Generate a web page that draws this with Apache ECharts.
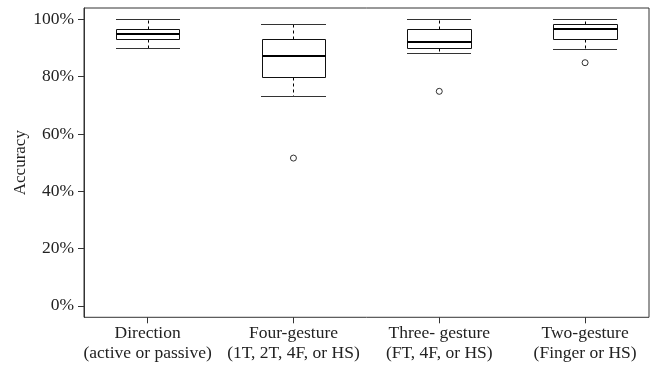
<!DOCTYPE html>
<html>
<head>
<meta charset="utf-8">
<script src="https://cdn.jsdelivr.net/npm/echarts@6/dist/echarts.min.js"></script>
<style>
html,body{margin:0;padding:0;background:#fff;}
#chart{width:658px;height:366px;}
</style>
</head>
<body>
<div id="chart"></div>
<script>
// ---- data (percent) ----
var categories = [
  'Direction\n(active or passive)',
  'Four-gesture\n(1T, 2T, 4F, or HS)',
  'Three- gesture\n(FT, 4F, or HS)',
  'Two-gesture\n(Finger or HS)'
];
var whiskerLow  = [90.0, 73.2, 88.2, 89.8];
var q1          = [93.1, 79.9, 90.0, 93.1];
var medians     = [94.9, 87.4, 92.3, 96.5];
var q3          = [96.6, 93.1, 96.5, 98.3];
var whiskerHigh = [100.0, 98.3, 100.0, 100.0];
var outlierCat  = [1, 2, 3];
var outlierVal  = [51.6, 74.9, 84.9];
var yTicks = [0, 20, 40, 60, 80, 100];

var boxData = categories.map(function (c, i) {
  return [i, whiskerLow[i], q1[i], medians[i], q3[i], whiskerHigh[i]];
});
var outlierData = outlierCat.map(function (c, i) { return [c, outlierVal[i]]; });

var FONT = 'Liberation Serif';
var TXT = '#222';

function r(v) { return Math.round(v) + 0.5; }

var chart = echarts.init(document.getElementById('chart'), null, {renderer: 'canvas'});
chart.setOption({
  animation: false,
  backgroundColor: '#fff',
  grid: [
    {left: 74.7, right: -13.6, top: 8, bottom: 48.7},
    {left: 84, right: 9, top: 8, bottom: 48.7, show: true, borderColor: '#333', borderWidth: 1, backgroundColor: 'transparent'}
  ],
  xAxis: [
    {
      gridIndex: 0, type: 'category', data: categories, boundaryGap: true, position: 'bottom',
      axisLine: {show: false, onZero: false},
      axisTick: {show: true, alignWithLabel: true, length: 6, lineStyle: {color: '#333', width: 1}},
      axisLabel: {margin: 6, fontFamily: FONT, fontSize: 17.5, lineHeight: 20, color: TXT, interval: 0},
      splitLine: {show: false}
    },
    {gridIndex: 1, type: 'value', min: 0, max: 1, show: false}
  ],
  yAxis: [
    {gridIndex: 0, type: 'value', min: -4, max: 104, show: false},
    {
      gridIndex: 1, type: 'value', min: -4, max: 104,
      axisLine: {show: true, lineStyle: {color: '#333'}},
      axisTick: {show: true, length: 6, customValues: yTicks, lineStyle: {color: '#333'}},
      axisLabel: {customValues: yTicks, formatter: '{value}%', margin: 10, fontFamily: FONT, fontSize: 17.5, color: TXT},
      splitLine: {show: false},
      name: 'Accuracy', nameLocation: 'middle', nameGap: 55, nameMoveOverlap: false,
      nameTextStyle: {fontFamily: FONT, fontSize: 17, color: TXT}
    }
  ],
  series: [
    {
      type: 'custom',
      xAxisIndex: 0, yAxisIndex: 0,
      data: boxData,
      encode: {x: 0, y: [1, 2, 3, 4, 5]},
      renderItem: function (params, api) {
        var x = api.value(0);
        var band = api.size([1, 0])[0];
        var bw = band * 0.436;
        var cw = band * 0.22;
        var pLo = api.coord([x, api.value(1)]);
        var pQ1 = api.coord([x, api.value(2)]);
        var pMd = api.coord([x, api.value(3)]);
        var pQ3 = api.coord([x, api.value(4)]);
        var pHi = api.coord([x, api.value(5)]);
        var cx = r(pMd[0]);
        var left = Math.round(pMd[0] - bw / 2) + 0.5;
        var right = Math.round(pMd[0] + bw / 2) + 0.5;
        var dash = {stroke: '#000', lineWidth: 1, lineDash: [3, 3]};
        var solid = {stroke: '#333', lineWidth: 1};
        return {
          type: 'group',
          children: [
            {type: 'line', shape: {x1: cx, y1: r(pQ3[1]), x2: cx, y2: r(pHi[1])}, style: dash},
            {type: 'line', shape: {x1: cx, y1: r(pQ1[1]), x2: cx, y2: r(pLo[1])}, style: dash},
            {type: 'line', shape: {x1: Math.round(pMd[0] - cw), y1: r(pHi[1]), x2: Math.round(pMd[0] + cw), y2: r(pHi[1])}, style: solid},
            {type: 'line', shape: {x1: Math.round(pMd[0] - cw), y1: r(pLo[1]), x2: Math.round(pMd[0] + cw), y2: r(pLo[1])}, style: solid},
            {type: 'rect', shape: {x: left, y: r(pQ3[1]), width: right - left, height: r(pQ1[1]) - r(pQ3[1])},
              style: {fill: '#fff', stroke: '#111', lineWidth: 1}},
            {type: 'line', shape: {x1: left, y1: Math.round(pMd[1]), x2: right, y2: Math.round(pMd[1])},
              style: {stroke: '#000', lineWidth: 2.2}}
          ]
        };
      }
    },
    {
      type: 'scatter',
      xAxisIndex: 0, yAxisIndex: 0,
      data: outlierData,
      symbol: 'circle', symbolSize: 6,
      itemStyle: {color: '#fff', borderColor: '#000', borderWidth: 1},
      z: 5
    }
  ]
});
</script>
</body>
</html>
